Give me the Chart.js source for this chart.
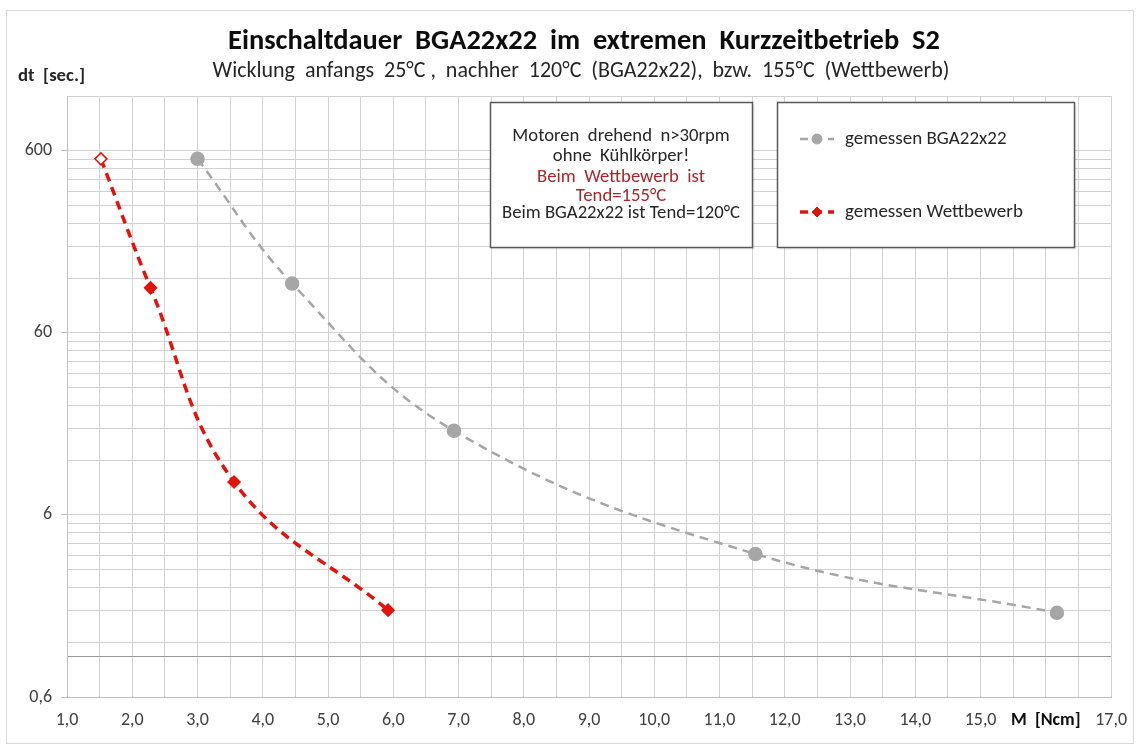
<!DOCTYPE html>
<html><head><meta charset="utf-8">
<script src="https://cdn.jsdelivr.net/npm/chart.js@4"></script>
<style>html,body{margin:0;padding:0;background:#fff}canvas{display:block}</style>
</head><body>
<canvas id="c" width="1140" height="747"></canvas>
<script>
const FONT = "Carlito, Lato, 'Open Sans', sans-serif";
// data
const xGray = [3.0, 4.45, 6.93, 11.55, 16.17];
const yGray = [542, 112, 17.4, 3.66, 1.74];
const xRed = [1.52, 2.28, 3.56, 5.92];
const yRed = [542, 106, 9.1, 1.80];
// axes
const yMajor = [0.6, 6, 60, 600];
const yMajorLabels = ['0,6', '6', '60', '600'];
const yExtraLine = [1.0];
const xMin = 1, xMax = 17, xStep = 0.5;
const xAxisTitleAt = 16;
const xAxisTitle = 'M  [Ncm]';
const yAxisTitle = 'dt  [sec.]';
const title = 'Einschaltdauer  BGA22x22  im  extremen  Kurzzeitbetrieb  S2';
const subtitle = 'Wicklung  anfangs  25°C ,  nachher  120°C  (BGA22x22),  bzw.  155°C  (Wettbewerb)';
const noteLines = [
  ['Motoren  drehend  n>30rpm', '#262626'],
  ['ohne  Kühlkörper!', '#262626'],
  ['Beim  Wettbewerb  ist', '#a5282c'],
  ['Tend=155°C', '#a5282c'],
  ['Beim BGA22x22 ist Tend=120°C', '#262626']
];
const legendLabels = ['gemessen BGA22x22', 'gemessen Wettbewerb'];
const grayColor = '#a6a6a6';
const redColor = '#e3120b';
const gridColor = '#d2d2d2';

const tv = c => (c && c.tick) ? c.tick.value : NaN;
const isMajor = v => yMajor.some(m => Math.abs(v - m) < 1e-9);
const isExtra = v => yExtraLine.some(m => Math.abs(v - m) < 1e-9);
const isXTitle = v => Math.abs(v - xAxisTitleAt) < 1e-9;

function fitFont(ctx, text, width, weight) {
  ctx.font = weight + ' 20px ' + FONT;
  const w = ctx.measureText(text).width;
  const size = 20 * width / w;
  ctx.font = weight + ' ' + size.toFixed(2) + 'px ' + FONT;
}

const deco = {
  id: 'deco',
  beforeDraw(chart) {
    const ctx = chart.ctx;
    ctx.save();
    ctx.fillStyle = '#fff';
    ctx.fillRect(0, 0, chart.width, chart.height);
    ctx.strokeStyle = '#d9d9d9';
    ctx.lineWidth = 1;
    ctx.strokeRect(6.5, 10.5, 1127, 733);
    ctx.restore();
  },
  afterDraw(chart) {
    const ctx = chart.ctx;
    ctx.save();
    ctx.textBaseline = 'middle';
    ctx.textAlign = 'center';
    ctx.fillStyle = '#0d0d0d';
    fitFont(ctx, title, 712, 'bold');
    ctx.fillText(title, 584, 42);
    ctx.fillStyle = '#262626';
    fitFont(ctx, subtitle, 737, 'normal');
    ctx.fillText(subtitle, 581, 72);
    ctx.textAlign = 'left';
    ctx.fillStyle = '#262626';
    fitFont(ctx, yAxisTitle, 67, 'bold');
    ctx.fillText(yAxisTitle, 18, 76);

    function box(x1, y1, x2, y2) {
      ctx.fillStyle = 'rgba(0,0,0,0.08)';
      ctx.fillRect(x1 + 2, y1 + 2, x2 - x1, y2 - y1);
      ctx.fillStyle = '#fff';
      ctx.fillRect(x1, y1, x2 - x1, y2 - y1);
      ctx.strokeStyle = '#595959';
      ctx.lineWidth = 1.5;
      ctx.strokeRect(x1, y1, x2 - x1, y2 - y1);
    }
    box(490.5, 102.5, 752.5, 247.5);
    box(777.5, 102.5, 1074.5, 247.5);
    ctx.textAlign = 'center';
    fitFont(ctx, noteLines[4][0], 238, 'normal');
    const ny = [136, 156, 177, 196, 213];
    noteLines.forEach((l, i) => {
      ctx.fillStyle = l[1];
      ctx.fillText(l[0], 621, ny[i]);
    });
    const ly = [139, 212];
    const styles = [
      {c: grayColor, w: 2.5, ps: 'circle', r: 5, bg: grayColor},
      {c: redColor, w: 3.5, ps: 'rectRot', r: 5, bg: redColor}
    ];
    styles.forEach((s, i) => {
      ctx.strokeStyle = s.c;
      ctx.lineWidth = s.w;
      ctx.setLineDash([8, 6]);
      ctx.beginPath();
      ctx.moveTo(800, ly[i]);
      ctx.lineTo(834, ly[i]);
      ctx.stroke();
      ctx.setLineDash([]);
      ctx.fillStyle = s.bg;
      ctx.strokeStyle = s.c;
      ctx.lineWidth = 1;
      Chart.helpers.drawPoint(ctx, {pointStyle: s.ps, radius: s.r, borderWidth: 1}, 817, ly[i]);
    });
    ctx.fillStyle = '#262626';
    ctx.textAlign = 'left';
    fitFont(ctx, legendLabels[1], 178, 'normal');
    legendLabels.forEach((t, i) => ctx.fillText(t, 845, ly[i]));
    ctx.restore();
  }
};

new Chart(document.getElementById('c'), {
  type: 'line',
  data: {
    datasets: [
      {
        label: legendLabels[0],
        data: xGray.map((x, i) => ({x: x, y: yGray[i]})),
        borderColor: grayColor,
        borderWidth: 2.5,
        borderDash: [9, 6],
        pointStyle: 'circle',
        pointRadius: 6,
        pointBackgroundColor: grayColor,
        pointBorderColor: grayColor,
        tension: 0.4,
        fill: false
      },
      {
        label: legendLabels[1],
        data: xRed.map((x, i) => ({x: x, y: yRed[i]})),
        borderColor: redColor,
        borderWidth: 3.5,
        borderDash: [9, 6],
        pointStyle: 'rectRot',
        pointRadius: 6,
        pointBackgroundColor: c => c.dataIndex === 0 ? '#ffffff' : redColor,
        pointBorderColor: redColor,
        pointBorderWidth: 1.5,
        tension: 0.4,
        fill: false
      }
    ]
  },
  options: {
    responsive: false,
    animation: false,
    layout: {padding: {top: 96, right: 23, left: 0, bottom: 0}},
    plugins: {legend: {display: false}, tooltip: {enabled: false}, title: {display: false}},
    scales: {
      x: {
        type: 'linear',
        min: xMin, max: xMax,
        afterFit: s => { s.height = 50; },
        grid: {color: gridColor, lineWidth: 1, drawTicks: false},
        border: {color: '#bfbfbf', width: 1},
        ticks: {
          stepSize: xStep,
          autoSkip: false,
          maxRotation: 0,
          padding: 13,
          color: c => isXTitle(tv(c)) ? '#0d0d0d' : '#404040',
          font: c => isXTitle(tv(c))
            ? {family: FONT, size: 18, weight: 'bold'}
            : {family: FONT, size: 18},
          callback: v => {
            if (isXTitle(v)) return xAxisTitle;
            if (Math.abs(v - Math.round(v)) > 1e-9) return '';
            return v.toFixed(1).replace('.', ',');
          }
        }
      },
      y: {
        type: 'logarithmic',
        min: 0.6, max: 1200,
        afterFit: s => { s.width = 67; },
        afterBuildTicks: s => {
          const t = [];
          yMajor.forEach(m => {
            for (let k = 1; k <= 9; k++) {
              const v = m * k;
              if (v <= 1200 + 1e-9) t.push({value: v});
            }
          });
          if (!t.some(o => Math.abs(o.value - 1200) < 1e-6)) t.push({value: 1200});
          yExtraLine.forEach(v => t.push({value: v}));
          t.sort((a, b) => a.value - b.value);
          s.ticks = t;
        },
        grid: {
          color: c => isExtra(tv(c)) ? '#9a9a9a' : gridColor,
          lineWidth: 1,
          tickLength: 6,
          tickColor: c => isMajor(tv(c)) ? '#bfbfbf' : 'rgba(0,0,0,0)'
        },
        border: {color: '#bfbfbf', width: 1},
        ticks: {
          autoSkip: false,
          padding: 9,
          color: '#404040',
          font: {family: FONT, size: 18},
          callback: v => {
            const i = yMajor.findIndex(m => Math.abs(m - v) < 1e-9);
            return i >= 0 ? yMajorLabels[i] : '';
          }
        }
      }
    }
  },
  plugins: [deco]
});
</script>
</body></html>
